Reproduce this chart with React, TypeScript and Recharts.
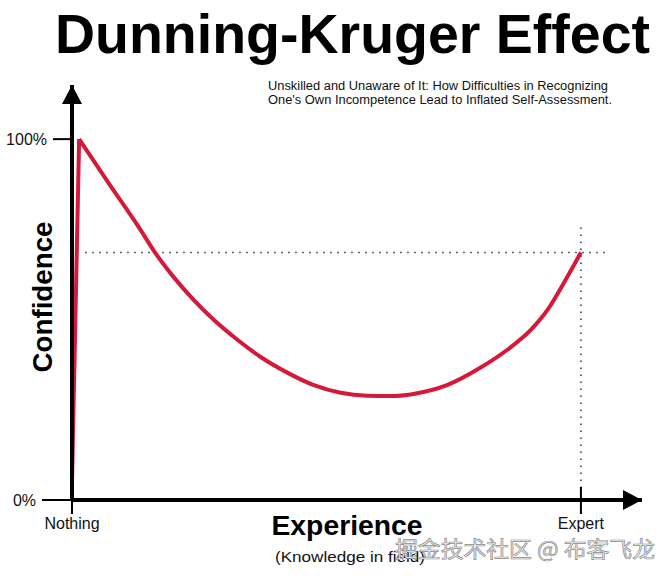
import { LineChart, Line, XAxis, YAxis, ReferenceLine, ReferenceDot } from "recharts";

// experience (0 = nothing, 100 = expert) vs confidence (%)
// the quick climb to "peak of mount stupid"
const riseExperience = [0, 1.4];
const riseConfidence = [5, 100];
// from the peak down through the valley and back up to expert
const restExperience = [1.4, 7.5, 13.4, 16.3, 19.9, 23.8, 27.8, 32.5, 37.0, 42.3, 47.4, 52.8, 58.0, 62.5, 67.1, 73.8, 80.3, 85.6, 90.2, 93.5, 96.7, 100];
const restConfidence = [100, 87.2, 75, 68.6, 61.9, 55.6, 50, 44.4, 39.7, 35.3, 31.9, 29.7, 28.9, 28.8, 29.4, 31.9, 36.7, 41.7, 47.2, 52.8, 60.3, 68.6];

const xTicks = [0, 100];
const xTickLabels = ["Nothing", "Expert"];
const yTicks = [0, 100];
const yTickLabels = ["0%", "100%"];

const expertConfidence = 68.6;

const riseData = riseExperience.map((x, i) => ({ x, y: riseConfidence[i] }));
const restData = restExperience.map((x, i) => ({ x, y: restConfidence[i] }));

const FONT = "'Liberation Sans', Arial, sans-serif";
const RED = "#d41a38";

function XTick(props: any) {
  const { x, y, payload } = props;
  const i = xTicks.indexOf(payload.value);
  const top = payload.value === 0 ? y : y - 13;
  return (
    <g>
      <line x1={x} x2={x} y1={top} y2={y + 14} stroke="#000" strokeWidth={2} />
      <text x={x} y={y + 29} textAnchor="middle" fontFamily={FONT} fontSize={16} fill="#111">
        {xTickLabels[i]}
      </text>
    </g>
  );
}

function YTick(props: any) {
  const { x, y, payload } = props;
  const i = yTicks.indexOf(payload.value);
  const len = payload.value === 0 ? 30 : 19;
  return (
    <g>
      <line x1={x - len} x2={x} y1={y} y2={y} stroke="#000" strokeWidth={2} />
      <text x={x - len - 6} y={y + 6} textAnchor="end" fontFamily={FONT} fontSize={16} fill="#111">
        {yTickLabels[i]}
      </text>
    </g>
  );
}

const upArrow = (p: any) => (
  <polygon points={`${p.cx},${p.cy} ${p.cx - 10},${p.cy + 19} ${p.cx + 10},${p.cy + 19}`} fill="#000" />
);
const rightArrow = (p: any) => (
  <polygon points={`${p.cx},${p.cy} ${p.cx - 19},${p.cy - 10} ${p.cx - 19},${p.cy + 10}`} fill="#000" />
);

export default function App() {
  return (
    <div style={{ position: "absolute", left: 0, top: 0, width: 672, height: 579, background: "#fff" }}>
      <LineChart
        width={672}
        height={579}
        margin={{ top: 85, right: 30, bottom: 78, left: 71 }}
      >
        <XAxis
          dataKey="x"
          type="number"
          domain={[0, 112]}
          ticks={xTicks}
          height={1}
          tickSize={0}
          tickMargin={0}
          tickLine={false}
          axisLine={{ stroke: "#000", strokeWidth: 4 }}
          tick={<XTick />}
          interval={0}
          allowDuplicatedCategory={false}
        />
        <YAxis
          type="number"
          domain={[0, 115]}
          ticks={yTicks}
          width={1}
          tickSize={0}
          tickMargin={0}
          tickLine={false}
          axisLine={{ stroke: "#000", strokeWidth: 4 }}
          tick={<YTick />}
          interval={0}
        />
        <ReferenceLine
          segment={[{ x: 2.6, y: expertConfidence }, { x: 105.3, y: expertConfidence }]}
          stroke="#333"
          strokeWidth={1.5}
          strokeDasharray="1.5 5.5"
          ifOverflow="visible"
        />
        <ReferenceLine
          segment={[{ x: 100, y: 75.5 }, { x: 100, y: 3.6 }]}
          stroke="#333"
          strokeWidth={1.5}
          strokeDasharray="1.5 5.5"
          ifOverflow="visible"
        />
        <ReferenceDot x={0} y={115} r={0} shape={upArrow} ifOverflow="visible" />
        <ReferenceDot x={112} y={0} r={0} shape={rightArrow} ifOverflow="visible" />
        <Line
          data={riseData}
          type="linear"
          dataKey="y"
          stroke={RED}
          strokeWidth={4}
          dot={false}
          isAnimationActive={false}
          strokeLinejoin="round"
        />
        <Line
          data={restData}
          type="monotoneX"
          dataKey="y"
          stroke={RED}
          strokeWidth={4}
          dot={false}
          isAnimationActive={false}
          strokeLinejoin="round"
        />
      </LineChart>
      <svg
        width={672}
        height={579}
        style={{ position: "absolute", left: 0, top: 0, pointerEvents: "none" }}
      >
        <text x={55} y={53} fontFamily={FONT} fontWeight="bold" fontSize={55} textLength={595} lengthAdjust="spacingAndGlyphs" fill="#000">
          Dunning-Kruger Effect
        </text>
        <text x={268} y={90} fontFamily={FONT} fontSize={12.5} textLength={340} lengthAdjust="spacingAndGlyphs" fill="#111">
          Unskilled and Unaware of It: How Difficulties in Recognizing
        </text>
        <text x={268} y={104} fontFamily={FONT} fontSize={12.5} textLength={344} lengthAdjust="spacingAndGlyphs" fill="#111">
          One's Own Incompetence Lead to Inflated Self-Assessment.
        </text>
        <text
          x={0}
          y={0}
          transform="translate(52,297) rotate(-90)"
          textAnchor="middle"
          fontFamily={FONT}
          fontWeight="bold"
          fontSize={27}
          textLength={151}
          lengthAdjust="spacingAndGlyphs"
          fill="#000"
        >
          Confidence
        </text>
        <text x={347} y={535} textAnchor="middle" fontFamily={FONT} fontWeight="bold" fontSize={28} textLength={151} lengthAdjust="spacingAndGlyphs" fill="#000">
          Experience
        </text>
        <text x={350} y={562} textAnchor="middle" fontFamily={FONT} fontSize={15} textLength={150} lengthAdjust="spacingAndGlyphs" fill="#111">
          (Knowledge in field)
        </text>
        <text x={395} y={557} fontFamily="'Noto Sans CJK SC', sans-serif" fontSize={22} textLength={260} lengthAdjust="spacingAndGlyphs" fill="#f2f2f2" stroke="#8a8a8a" strokeWidth={0.7}>
          掘金技术社区 @ 布客飞龙
        </text>
      </svg>
    </div>
  );
}
